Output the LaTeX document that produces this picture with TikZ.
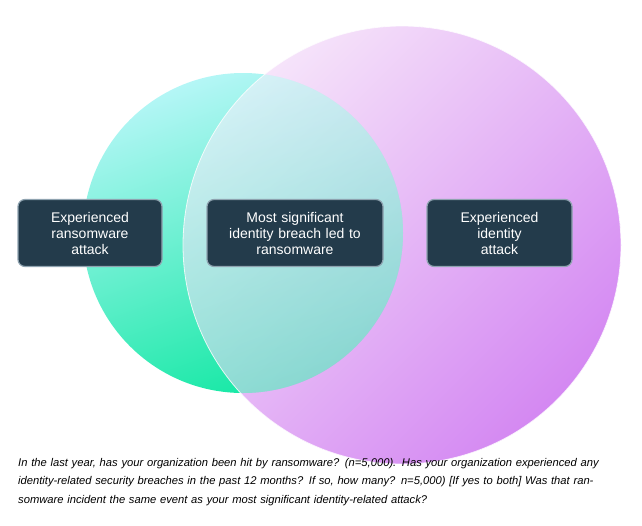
\documentclass[tikz,border=0pt]{standalone}
\usepackage{fontspec}
\setmainfont{Liberation Sans}
\definecolor{boxfill}{HTML}{233B4B}
\definecolor{boxline}{HTML}{8FA3B0}
\definecolor{ransomtop}{HTML}{B4F6F6}
\definecolor{ransombot}{HTML}{14E8A4}
\definecolor{idtop}{HTML}{F6E4FA}
\definecolor{idbot}{HTML}{D488F2}
\begin{document}
\begin{tikzpicture}[x=1pt, y=-1pt,
  label box/.style={draw=boxline, line width=1.2pt, fill=boxfill, rounded corners=7pt,
    text=white, font=\fontsize{14}{16}\selectfont, align=center,
    minimum height=67pt, inner sep=2pt}]
\useasboundingbox (0,0) rectangle (642,525);

% circles
\shade[top color=idtop, bottom color=idbot, shading angle=45] (402,245) circle (219);
\shade[top color=ransomtop, bottom color=ransombot, shading angle=20] (243,233) circle (160);
\begin{scope}
\clip (402,245) circle (219);
\fill[white, opacity=0.3] (243,233) circle (160);
\shade[top color=idtop, bottom color=idbot, shading angle=45, opacity=0.35] (402,245) circle (219);
\end{scope}
\draw[white, opacity=0.8, line width=0.8pt] (402,245) circle (219);

% labels
\node (ransom) [label box, minimum width=144pt, text width=130pt] at (90,233) {Experienced\\ransomware\\attack};
\node (both) [label box, minimum width=176pt, text width=172pt] at (295,233) {Most significant\\identity breach led to\\ransomware};
\node (identity) [label box, minimum width=145pt, text width=130pt] at (499.5,233) {Experienced\\identity\\attack};

% question
\node (question) [anchor=north west, text width=612pt, align=left,
  font=\itshape\fontsize{11.2}{18.5}\selectfont, inner sep=0pt] at (18,458)
  {In the last year, has your organization been hit by ransomware? (n=5,000). Has your organization experienced any identity-related security breaches in the past 12 months? If so, how many? n=5,000) [If yes to both] Was that ransomware incident the same event as your most significant identity-related attack?};
\end{tikzpicture}
\end{document}
